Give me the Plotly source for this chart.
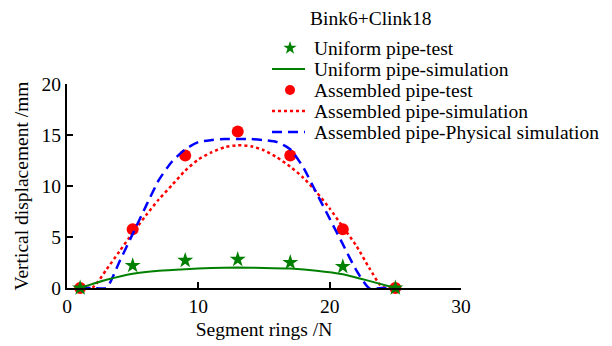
import plotly.graph_objects as go

# ---- data -------------------------------------------------------------
ring_test = [1, 5, 9, 13, 17, 21, 25]
uniform_test = [0.0, 2.2, 2.7, 2.8, 2.5, 2.1, 0.0]
assembled_test = [0.0, 5.75, 13.0, 15.35, 13.0, 5.75, 0.0]

ring_uniform_sim = [1, 3, 5, 7, 9, 11, 13, 15, 17, 19, 21, 23, 25]
uniform_sim = [0.0, 0.8, 1.4, 1.7, 1.85, 1.95, 2.0, 1.97, 1.9, 1.7, 1.35, 0.7, 0.0]

ring_assembled_sim = [1, 2, 3, 4, 5, 6, 7, 8, 9, 10, 11, 12, 13, 14, 15, 16, 17,
                      18, 19, 20, 21, 22, 23, 24, 25]
assembled_sim = [0.0, 0.1, 1.8, 3.6, 5.4, 7.1, 8.7, 10.1, 11.5, 12.6, 13.3, 13.8,
                 14.0, 13.9, 13.5, 12.8, 11.9, 10.8, 9.4, 7.8, 6.0, 4.2, 2.0, 0.1, 0.0]

ring_physical_sim = [1, 2, 3, 4, 5, 6, 7, 8, 9, 10, 11, 12, 13, 14, 15, 16, 17,
                     18, 19, 20, 21, 22, 23, 24, 25]
physical_sim = [0.0, 0.0, 0.0, 2.6, 5.3, 8.0, 10.6, 12.4, 13.6, 14.3, 14.5, 14.6,
                14.6, 14.6, 14.5, 14.3, 13.6, 11.8, 9.3, 6.8, 4.3, 1.8, 0.0, 0.0, 0.0]

x_ticks = [0, 10, 20, 30]
y_ticks = [0, 5, 10, 15, 20]

series_names = [
    "Uniform pipe-test",
    "Uniform pipe-simulation",
    "Assembled pipe-test",
    "Assembled pipe-simulation",
    "Assembled pipe-Physical simulation",
]
legend_title = "Bink6+Clink18"

# ---- styling / layout -------------------------------------------------
W, H = 612, 346
FONT = "Liberation Serif, Times New Roman, serif"
FS = 19.5
GREEN, RED, BLUE = "#008000", "#ff0000", "#0000ff"

# plot box in pixels (left, right, top, bottom)
PL, PR, PT, PB = 67, 461, 84, 288

# legend geometry in pixels
LEG_SYM_X0, LEG_SYM_X1, LEG_SYM_XC = 272, 305, 290
LEG_TEXT_X = 312
LEG_ROW_Y = [48, 69, 90, 111, 132]
LEG_TITLE_X, LEG_TITLE_Y = 371, 18

styles = [
    dict(mode="markers", marker=dict(symbol="star", color=GREEN, size=12)),
    dict(mode="lines", line=dict(color=GREEN, width=2)),
    dict(mode="markers", marker=dict(symbol="circle", color=RED, size=12)),
    dict(mode="lines", line=dict(color=RED, width=2.5, dash="dot")),
    dict(mode="lines", line=dict(color=BLUE, width=2.5, dash="10px,6px")),
]
legend_marker_size = [10, None, 10, None, None]

fig = go.Figure()

# draw order: circles, dotted, dashed, solid, stars on top
plot_series = [
    (2, ring_test, assembled_test),
    (3, ring_assembled_sim, assembled_sim),
    (4, ring_physical_sim, physical_sim),
    (1, ring_uniform_sim, uniform_sim),
    (0, ring_test, uniform_test),
]
for idx, xs, ys in plot_series:
    st = styles[idx]
    kw = dict(mode=st["mode"])
    if "line" in st:
        kw["line"] = dict(st["line"], shape="spline", smoothing=0.6)
    if "marker" in st:
        kw["marker"] = st["marker"]
    fig.add_trace(go.Scatter(x=xs, y=ys, name=series_names[idx], showlegend=False,
                             cliponaxis=False, xaxis="x", yaxis="y", **kw))

# legend samples drawn on a full-figure overlay axis in pixel units
for i, st in enumerate(styles):
    y = LEG_ROW_Y[i]
    if st["mode"] == "lines":
        fig.add_trace(go.Scatter(x=[LEG_SYM_X0, LEG_SYM_X1], y=[y, y], mode="lines",
                                 line=st["line"], showlegend=False, hoverinfo="skip",
                                 cliponaxis=False, xaxis="x2", yaxis="y2"))
    else:
        m = dict(st["marker"], size=legend_marker_size[i])
        fig.add_trace(go.Scatter(x=[LEG_SYM_XC], y=[y], mode="markers", marker=m,
                                 showlegend=False, hoverinfo="skip",
                                 cliponaxis=False, xaxis="x2", yaxis="y2"))

annotations = [dict(x=LEG_TITLE_X, y=LEG_TITLE_Y, xref="x2", yref="y2", text=legend_title,
                    showarrow=False, xanchor="center", yanchor="middle",
                    font=dict(family=FONT, size=FS, color="black"))]
for name, y in zip(series_names, LEG_ROW_Y):
    annotations.append(dict(x=LEG_TEXT_X, y=y, xref="x2", yref="y2", text=name,
                            showarrow=False, xanchor="left", yanchor="middle",
                            font=dict(family=FONT, size=FS, color="black")))

axis_common = dict(
    showgrid=False, zeroline=False, showline=True, linecolor="black", linewidth=2,
    ticks="inside", ticklen=6, tickwidth=2, tickcolor="black", automargin=False,
    tickfont=dict(family=FONT, size=FS, color="black"),
)

fig.update_layout(
    width=W, height=H,
    margin=dict(l=0, r=0, t=0, b=0, pad=0, autoexpand=False),
    paper_bgcolor="white", plot_bgcolor="rgba(0,0,0,0)",
    font=dict(family=FONT, size=FS, color="black"),
    xaxis=dict(axis_common, domain=[PL / W, PR / W], range=[0, 30],
               tickvals=x_ticks, anchor="y",
               title=dict(text="Segment rings /N", font=dict(family=FONT, size=FS), standoff=6)),
    yaxis=dict(axis_common, domain=[(H - PB) / H, (H - PT) / H], range=[0, 20],
               tickvals=y_ticks, anchor="x",
               title=dict(text="Vertical displacement /mm", font=dict(family=FONT, size=FS), standoff=8)),
    xaxis2=dict(domain=[0, 1], range=[0, W], visible=False, anchor="y2",
                fixedrange=True, automargin=False),
    yaxis2=dict(domain=[0, 1], range=[H, 0], visible=False, anchor="x2",
                fixedrange=True, automargin=False),
    annotations=annotations,
    showlegend=False,
)

fig.write_html("out.html")
